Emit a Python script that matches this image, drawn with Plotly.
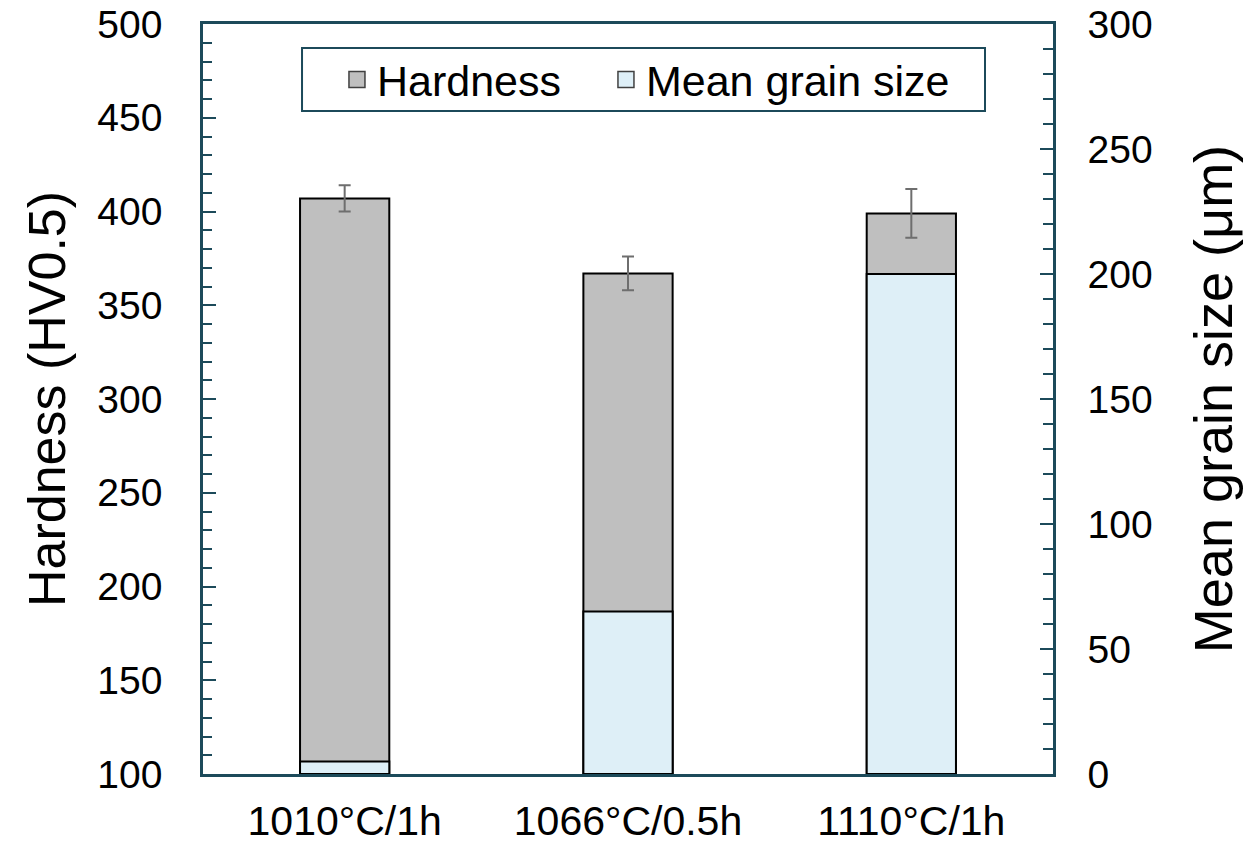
import plotly.graph_objects as go

categories = ["1010°C/1h", "1066°C/0.5h", "1110°C/1h"]
hardness = [407, 367, 399]
hardness_err = [7, 9, 13]
grain_size = [5, 65, 200]

AXIS_COLOR = "#1C4A5A"
FONT = "Arial, Liberation Sans, sans-serif"
GRAY = "#BFBFBF"
BLUE = "#DEEFF7"

fig = go.Figure()
fig.add_trace(go.Bar(
    x=categories, y=hardness, name="Hardness", yaxis="y",
    width=0.315, showlegend=False,
    marker=dict(color=GRAY, line=dict(color="black", width=2)),
    error_y=dict(type="data", array=hardness_err, visible=True,
                 color="#6E6E6E", thickness=2, width=6),
))
fig.add_trace(go.Bar(
    x=categories, y=grain_size, name="Mean grain size", yaxis="y2",
    width=0.315, showlegend=False,
    marker=dict(color=BLUE, line=dict(color="black", width=2)),
))
# legend entries with larger square symbols
for name, col, lw in [("Hardness", GRAY, 224), ("Mean grain size", BLUE, 330)]:
    fig.add_trace(go.Scatter(
        x=[None], y=[None], mode="markers", name=name, legendwidth=lw,
        marker=dict(symbol="square", size=20, color=col,
                    line=dict(color="#404040", width=1.5)),
    ))

# legend frame
fig.add_shape(type="rect", xref="paper", yref="paper",
              x0=0.1165, x1=0.92, y0=0.884, y1=0.968,
              line=dict(color=AXIS_COLOR, width=2), fillcolor="white",
              layer="below")

fig.update_layout(
    width=1246, height=836,
    margin=dict(l=195, r=201, t=16, b=70, autoexpand=False),
    paper_bgcolor="white", plot_bgcolor="white",
    barmode="overlay",
    font=dict(family=FONT, size=40, color="black"),
    showlegend=True,
    legend=dict(
        orientation="h", x=0.1576, y=0.926, xanchor="left", yanchor="middle",
        borderwidth=0, bgcolor="rgba(0,0,0,0)",
        font=dict(size=43, family=FONT), itemwidth=30, itemsizing="trace",
    ),
    xaxis=dict(
        showline=True, linecolor=AXIS_COLOR, linewidth=2.5, mirror=True,
        ticks="", showgrid=False, tickfont=dict(size=41),
        ticklabelstandoff=9,
    ),
    yaxis=dict(
        range=[100, 500], dtick=50, tick0=0,
        showline=True, linecolor=AXIS_COLOR, linewidth=2.5,
        ticks="inside", ticklen=13, tickwidth=2, tickcolor=AXIS_COLOR,
        minor=dict(dtick=10, ticks="inside", ticklen=9, tickwidth=2, tickcolor=AXIS_COLOR),
        showgrid=False, zeroline=False, ticklabeloverflow="allow",
        tickfont=dict(size=39), ticklabelstandoff=30,
        title=dict(text="Hardness (HV0.5)", font=dict(size=52), standoff=16),
    ),
    yaxis2=dict(
        range=[0, 300], dtick=50, tick0=0,
        overlaying="y", side="right",
        showline=True, linecolor=AXIS_COLOR, linewidth=2.5,
        ticks="inside", ticklen=13, tickwidth=2, tickcolor=AXIS_COLOR,
        minor=dict(dtick=10, ticks="inside", ticklen=10, tickwidth=2, tickcolor=AXIS_COLOR),
        showgrid=False, zeroline=False, ticklabeloverflow="allow",
        tickfont=dict(size=39), ticklabelstandoff=24,
        title=dict(text="Mean grain size (μm)", font=dict(size=54), standoff=43),
    ),
)

fig.write_html("out.html")
